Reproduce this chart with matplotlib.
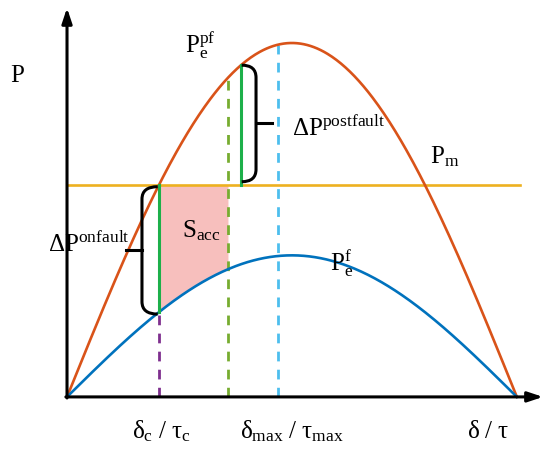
import numpy as np
import matplotlib
matplotlib.use("Agg")
import matplotlib.pyplot as plt
from matplotlib.path import Path
from matplotlib.patches import PathPatch

plt.rcParams['mathtext.fontset'] = 'custom'
plt.rcParams['mathtext.rm'] = 'Liberation Serif'
plt.rcParams['mathtext.it'] = 'Liberation Serif:italic'
plt.rcParams['font.family'] = 'Liberation Serif'

# curve parameters (per-unit power, angle in rad)
p_postfault = 1.0     # P_e^pf amplitude
p_fault = 0.40        # P_e^f amplitude
p_m = 0.60            # mechanical power
d_c = np.arcsin(p_m)  # clearing angle
d_acc_end = 1.124     # end of accelerating area (green dashed)
d_jump = 1.215        # post-fault jump (green solid)
d_max = 1.473         # max angle (light blue dashed)
d_axis_end = 3.324
p_axis_end = 1.099

c_orange = '#D95319'
c_blue = '#0072BD'
c_yellow = '#EDB120'
c_purple = '#7E2F8E'
c_green_d = '#77AC30'
c_lblue = '#4DBEEE'
c_green = '#1DB04A'
c_pink = '#F7BFBD'

fig = plt.figure(figsize=(5.5, 4.5), dpi=100)
ax = fig.add_axes([0, 0, 1, 1])
ax.set_xlim(-0.468, 3.373)
ax.set_ylim(-0.150, 1.1215)
ax.axis('off')

d = np.linspace(0, np.pi, 400)
pf = p_fault * np.sin(d)
ppf = p_postfault * np.sin(d)

# accelerating area
da = np.linspace(d_c, d_acc_end, 100)
ax.fill_between(da, p_m, p_fault * np.sin(da), color=c_pink, lw=0, zorder=1)

ax.plot(d, ppf, color=c_orange, lw=1.9, zorder=3)
ax.plot(d, pf, color=c_blue, lw=1.9, zorder=3)
ax.plot([0, 3.163], [p_m, p_m], color=c_yellow, lw=1.9, zorder=2)

dash = dict(lw=2.0, ls=(0, (3.5, 3)), zorder=2)
ax.plot([d_c, d_c], [0, p_fault * np.sin(d_c)], color=c_purple, **dash)
ax.plot([d_acc_end, d_acc_end], [0, np.sin(d_acc_end)], color=c_green_d, **dash)
ax.plot([d_max, d_max], [0, np.sin(d_max) * p_postfault], color=c_lblue, **dash)

ax.plot([d_c, d_c], [p_m, p_fault * np.sin(d_c)], color=c_green, lw=2.2, zorder=4)
ax.plot([d_jump, d_jump], [p_m, np.sin(d_jump)], color=c_green, lw=2.2, zorder=4)


def brace(x_end, x_line, x_tip, y_top, y_bot, r=0.035):
    verts = [(x_end, y_top), (x_line, y_top), (x_line, y_top - r),
             (x_line, y_bot + r), (x_line, y_bot), (x_end, y_bot)]
    codes = [Path.MOVETO, Path.CURVE3, Path.CURVE3,
             Path.LINETO, Path.CURVE3, Path.CURVE3]
    ax.add_patch(PathPatch(Path(verts, codes), fill=False, lw=2.2,
                           color='k', zorder=5))
    ym = (y_top + y_bot) / 2
    ax.plot([x_line, x_tip], [ym, ym], color='k', lw=2.2, zorder=5)


brace(d_c - 0.01, d_c - 0.12, d_c - 0.235,
      p_m - 0.006, p_fault * np.sin(d_c) - 0.006)
brace(d_jump + 0.005, d_jump + 0.105, d_jump + 0.215,
      np.sin(d_jump), p_m + 0.008)

# axes arrows
arr = dict(arrowstyle='-|>,head_length=0.9,head_width=0.3', lw=2.2,
           color='k', shrinkA=0, shrinkB=0)
ax.annotate('', xy=(0, p_axis_end), xytext=(0, -0.003), arrowprops=arr, zorder=6)
ax.annotate('', xy=(d_axis_end, 0), xytext=(-0.008, 0), arrowprops=arr, zorder=6)

fs = 18
ax.text(-0.349, 0.907, r'$\mathrm{P}$', fontsize=fs, ha='center', va='center')
ax.text(0.824, 0.972, r'$\mathrm{P_e^{pf}}$', fontsize=fs, ha='left', va='baseline')
ax.text(1.571, 0.740, r'$\mathrm{\Delta P^{postfault}}$', fontsize=fs, ha='left', va='baseline')
ax.text(2.535, 0.661, r'$\mathrm{P_m}$', fontsize=fs, ha='left', va='baseline')
ax.text(-0.133, 0.412, r'$\mathrm{\Delta P^{onfault}}$', fontsize=fs, ha='left', va='baseline')
ax.text(0.803, 0.452, r'$\mathrm{S_{acc}}$', fontsize=fs, ha='left', va='baseline')
ax.text(1.837, 0.359, r'$\mathrm{P_e^f}$', fontsize=fs, ha='left', va='baseline')
ax.text(0.454, -0.116, r'$\mathrm{δ_c\ /\ τ_c}$', fontsize=fs, ha='left', va='baseline')
ax.text(1.208, -0.116, r'$\mathrm{δ_{max}\ /\ τ_{max}}$', fontsize=fs, ha='left', va='baseline')
ax.text(2.793, -0.116, r'$\mathrm{δ\ /\ τ}$', fontsize=fs, ha='left', va='baseline')

fig.savefig('out.png', dpi=100)
